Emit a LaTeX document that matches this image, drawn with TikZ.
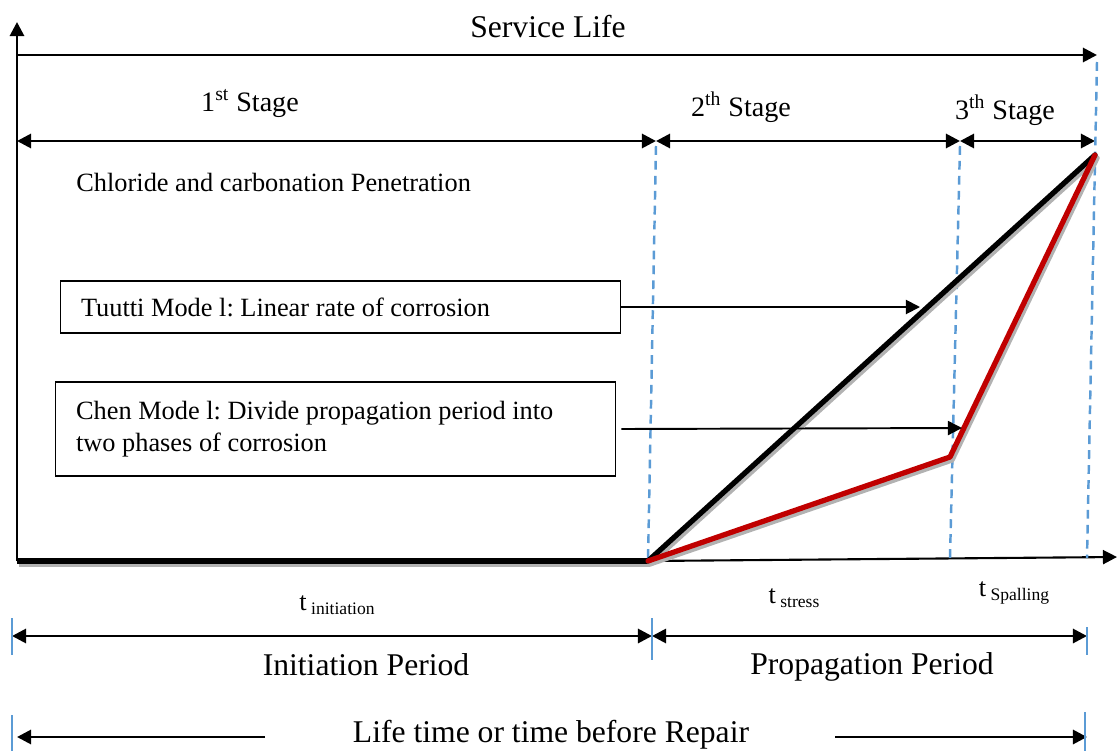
\documentclass[tikz,border=0pt]{standalone}
\usepackage{fontspec}
\setmainfont{Liberation Serif}
\usepackage{tikz}
\usetikzlibrary{calc}
\usetikzlibrary{arrows.meta}
\usepackage{xcolor}
\definecolor{C0}{HTML}{5B9BD5}
\definecolor{C1}{HTML}{C00000}
\frenchspacing

\begin{document}
\begin{tikzpicture}[x=0.02cm,y=-0.02cm,line width=1.6pt,>={Triangle[length=8pt,width=8pt]}]

\tikzset{
guide/.style={draw=C0,line width=1.4pt,dash pattern=on 5pt off 3.5pt},
tick/.style={draw=C0,line width=0.8pt},
big/.style={font=\fontsize{18}{21}\selectfont},
mid/.style={font=\fontsize{15}{18}\selectfont},
stagelab/.style={font=\fontsize{16}{19}\selectfont},
model/.style={draw,line width=0.6pt,mid,align=flush left,inner xsep=0.42cm,
  text width=10.38cm,minimum height=#1},
rate/.style={line width=3pt,line cap=round,line join=round},
shade/.style={rate,draw=gray!60},
pointer/.style={line width=1.1pt,->}
}
\def\tsub#1{t\,\raisebox{-2pt}{\fontsize{10}{12}\selectfont #1}}

\useasboundingbox (0,0) rectangle (1117,751);

% axes
\coordinate (o) at (17,561);
\coordinate (yend) at (17,22);
\coordinate (ti) at (648,561);
\coordinate (tx) at (1117,557);
\draw[->] (o) -- (yend);
\draw[line width=3pt,gray!60] ($(o)+(2,3)$) -- ($(ti)+(2,3)$);
\draw[line width=3pt] (o) -- (ti);
\draw[line width=1.2pt,->] (ti) -- (tx);

% service life
\coordinate (sl_a) at (17,55);
\coordinate (sl_b) at (1097,55);
\draw[->] (sl_a) -- (sl_b);
\node[big] (sl) at (548,27) {Service Life};

% stages
\coordinate (s_a) at (17,141);
\coordinate (s_b) at (656,141);
\coordinate (s_c) at (960,141);
\coordinate (s_d) at (1095,141);
\draw[<->] (s_a) -- (s_b);
\draw[<->] (s_b) -- (s_c);
\draw[<->] (s_c) -- (s_d);
\node[stagelab] (st_a) at (250,103) {1\textsuperscript{st} Stage};
\node[stagelab] (st_b) at (741,107) {2\textsuperscript{th} Stage};
\node[stagelab] (st_c) at (1005,110) {3\textsuperscript{th} Stage};
\node[mid,anchor=west,inner xsep=0pt] (pen) at (75,182) {Chloride and carbonation Penetration};

% guide lines
\coordinate (knee) at (950,457);
\coordinate (peak) at (1095,155);
\draw[guide] (656,146) -- (ti);
\draw[guide] (960,146) -- (950,558);
\draw[guide] (1097,62) -- (1087,558);

% corrosion curves
\draw[shade] ($(ti)+(2,3)$) -- ($(peak)+(2,3)$);
\draw[shade] ($(ti)+(2,3)$) -- ($(knee)+(2,3)$) -- ($(peak)+(2,3)$);
\draw[rate] (ti) -- (peak);
\draw[rate,C1] (ti) -- (knee) -- (peak);

% models
\node[model=1.04cm] (tuutti) at (340.5,307) {Tuutti Mode l: Linear rate of corrosion};
\node[model=1.88cm] (chen) at (335.5,429) {Chen Mode l: Divide propagation period into\\two phases of corrosion};
\coordinate (tu_tip) at (920,307);
\coordinate (ch_tip) at (962,428);
\draw[pointer] (tuutti.east) -- (tu_tip);
\draw[pointer] ($(chen.east)+(5,0)$) -- (ch_tip);

% times
\node[mid] (t_i) at (337,605) {\tsub{initiation}};
\node[mid] (t_s) at (794,598) {\tsub{stress}};
\node[mid] (t_p) at (1014,593) {\tsub{Spalling}};

% periods
\coordinate (p_a) at (12,636);
\coordinate (p_b) at (652,636);
\coordinate (p_c) at (1087,636);
\draw[<->] (p_a) -- (p_b);
\draw[<->] (p_b) -- (p_c);
\draw[tick] ($(p_a)+(0,-18)$) -- ($(p_a)+(0,19)$);
\draw[tick] ($(p_b)+(0,-18)$) -- ($(p_b)+(0,24)$);
\draw[tick] ($(p_c)+(0,-9)$) -- ($(p_c)+(0,19)$);
\node[big] (ip) at (366,665) {Initiation Period};
\node[big] (pp) at (872,667) {Propagation Period};

% life time
\node[big] (life) at (551,735) {Life time or time before Repair};
\coordinate (l_a) at (265,737);
\coordinate (l_b) at (17,737);
\coordinate (l_c) at (835,737);
\coordinate (l_d) at (1087,737);
\draw[->] (l_a) -- (l_b);
\draw[->] (l_c) -- (l_d);
\draw[tick] (12,715) -- (12,751);
\draw[tick] (1085,712) -- (1085,751);

\end{tikzpicture}
\end{document}
